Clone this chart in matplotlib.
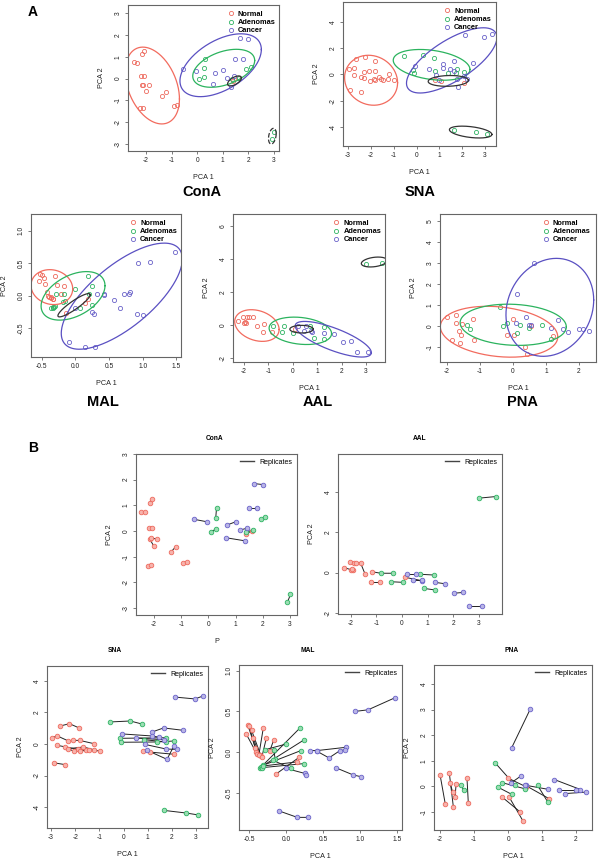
import numpy as np
import matplotlib
matplotlib.use("Agg")
import matplotlib.pyplot as plt
from matplotlib.lines import Line2D
from matplotlib.ticker import FormatStrFormatter

plt.rcParams['font.family'] = ['Liberation Sans', 'DejaVu Sans']
plt.rcParams['axes.unicode_minus'] = False

FIG_W = 600
FIG_H = 868

GROUPS = ['Normal', 'Adenomas', 'Cancer']
EDGE_COLORS = ['#EE6A5E', '#2EB363', '#6A62C9']
FILL_COLORS = ['#F7B3AC', '#9BDDB3', '#B9B5E6']
ELLIPSE_COLORS = ['#F26B5E', '#2BB35E', '#5A50C2', '#333333', '#333333']

# points: (PCA 1, PCA 2, group index, replicate id)
CONA_PTS = [
    (-2.47, 0.75, 0, 1), (-2.34, 0.73, 0, 1),
    (-2.14, 1.11, 0, 2), (-2.06, 1.24, 0, 2),
    (-2.20, 0.10, 0, 3), (-2.07, 0.11, 0, 3),
    (-2.16, -0.30, 0, 4), (-2.01, -0.58, 0, 4),
    (-2.10, -0.28, 0, 5), (-1.88, -0.31, 0, 5),
    (-2.22, -1.35, 0, 6), (-2.12, -1.33, 0, 6),
    (-1.36, -0.80, 0, 7), (-1.20, -0.61, 0, 7),
    (-0.92, -1.24, 0, 8), (-0.77, -1.19, 0, 8),
    (1.40, -0.12, 0, 9), (1.59, 0.01, 0, 9),
    (0.30, 0.88, 1, 10), (0.27, 0.49, 1, 10),
    (0.08, -0.02, 1, 11), (0.27, 0.06, 1, 11),
    (1.93, 0.45, 1, 12), (2.10, 0.55, 1, 12),
    (2.91, -2.77, 1, 13), (3.02, -2.47, 1, 13),
    (1.37, -0.04, 1, 14), (1.65, 0.04, 1, 14),
    (-0.54, 0.46, 2, 15), (-0.05, 0.36, 2, 15),
    (0.70, 0.24, 2, 16), (1.03, 0.37, 2, 16),
    (1.16, 0.04, 2, 17), (1.43, 0.11, 2, 17),
    (0.64, -0.26, 2, 18), (1.34, -0.38, 2, 18),
    (1.49, 0.88, 2, 19), (1.80, 0.88, 2, 19),
    (1.67, 1.85, 2, 20), (2.00, 1.81, 2, 20),
]

SNA_PTS = [
    (-2.63, 1.14, 0, 1), (-2.24, 1.29, 0, 1), (-1.84, 1.02, 0, 1),
    (-2.97, 0.40, 0, 2), (-2.74, 0.51, 0, 2), (-2.28, 0.19, 0, 2),
    (-2.10, 0.23, 0, 3), (-1.82, 0.23, 0, 3), (-1.22, 0.02, 0, 3),
    (-2.76, -0.08, 0, 4), (-1.87, -0.34, 0, 4), (-0.97, -0.44, 0, 4),
    (-2.42, -0.19, 0, 5), (-2.05, -0.47, 0, 5), (-1.55, -0.36, 0, 5),
    (-2.31, -0.30, 0, 6), (-1.66, -0.19, 0, 6), (-1.24, -0.36, 0, 6),
    (-1.80, -0.44, 0, 7), (-1.45, -0.40, 0, 7),
    (-2.90, -1.19, 0, 8), (-2.41, -1.31, 0, 8),
    (0.80, -0.44, 0, 9), (1.08, -0.51, 0, 9), (2.08, -0.65, 0, 9),
    (-0.55, 1.40, 1, 10), (0.28, 1.46, 1, 10), (0.76, 1.27, 1, 10),
    (-0.16, 0.36, 1, 11), (1.76, 0.40, 1, 11),
    (-0.11, 0.11, 1, 12), (1.38, 0.13, 1, 12), (2.08, 0.19, 1, 12),
    (0.83, 0.28, 1, 13), (1.74, 0.13, 1, 13),
    (1.66, -4.21, 1, 14), (2.60, -4.38, 1, 14), (3.09, -4.50, 1, 14),
    (2.12, 2.98, 2, 15), (2.96, 2.86, 2, 15), (3.30, 3.05, 2, 15),
    (1.18, 0.76, 2, 16), (1.66, 1.02, 2, 16), (2.46, 0.87, 2, 16),
    (-0.07, 0.64, 2, 17), (1.18, 0.51, 2, 17), (1.45, 0.44, 2, 17),
    (0.53, 0.38, 2, 18), (1.66, 0.27, 2, 18),
    (0.87, -0.02, 2, 19), (1.77, -0.32, 2, 19), (2.21, -0.34, 2, 19),
    (0.97, -0.40, 2, 20), (1.80, -0.97, 2, 20), (2.08, -0.15, 2, 20),
]

MAL_PTS = [
    (-0.54, 0.22, 0, 1), (-0.41, 0.00, 0, 1),
    (-0.52, 0.33, 0, 2), (-0.39, -0.02, 0, 2),
    (-0.50, 0.32, 0, 3), (-0.42, 0.05, 0, 3),
    (-0.47, 0.27, 0, 4), (-0.34, -0.05, 0, 4),
    (-0.45, 0.18, 0, 5), (-0.36, -0.04, 0, 5),
    (-0.31, 0.30, 0, 6), (-0.37, -0.03, 0, 6),
    (-0.27, 0.17, 0, 7), (-0.33, -0.06, 0, 7),
    (-0.22, 0.02, 0, 8), (-0.17, 0.15, 0, 8),
    (-0.14, -0.27, 0, 9), (0.18, -0.06, 0, 9),
    (-0.36, -0.20, 1, 10), (0.19, 0.30, 1, 10),
    (-0.34, -0.18, 1, 11), (0.24, 0.15, 1, 11),
    (-0.31, -0.16, 1, 12), (0.20, 0.02, 1, 12),
    (-0.33, -0.19, 1, 13), (0.24, -0.14, 1, 13),
    (-0.32, -0.17, 1, 14), (0.14, -0.12, 0, 14),
    (-0.29, 0.03, 1, 15), (0.00, 0.10, 1, 15),
    (-0.17, 0.03, 1, 16), (-0.15, -0.08, 1, 16),
    (-0.18, -0.10, 1, 17), (0.07, -0.20, 1, 17),
    (0.93, 0.50, 2, 18), (1.11, 0.52, 2, 18), (1.48, 0.67, 2, 18),
    (0.32, 0.02, 2, 19), (0.42, 0.02, 2, 19), (0.81, 0.06, 2, 19),
    (0.42, 0.01, 2, 20), (0.58, -0.07, 2, 20), (0.73, 0.02, 2, 20), (0.80, 0.03, 2, 20),
    (0.67, -0.19, 2, 21), (0.91, -0.28, 2, 21), (1.01, -0.30, 2, 21),
    (-0.10, -0.72, 2, 22), (0.15, -0.80, 2, 22), (0.29, -0.80, 2, 22),
    (0.00, -0.20, 2, 23), (0.25, -0.26, 2, 23), (0.27, -0.28, 2, 23),
]

AAL_PTS = [
    (-2.26, 0.25, 0, 1), (-1.93, 0.12, 0, 1),
    (-2.04, 0.51, 0, 2), (-1.87, 0.48, 0, 2),
    (-1.78, 0.50, 0, 3), (-1.62, 0.48, 0, 3), (-1.45, -0.05, 0, 3),
    (-2.00, 0.15, 0, 4), (-1.95, 0.20, 0, 4),
    (-1.16, 0.04, 0, 5), (-0.83, -0.03, 1, 5), (-0.37, -0.03, 1, 5),
    (-1.23, -0.45, 0, 6), (-0.87, -0.45, 0, 6),
    (0.11, -0.23, 0, 7), (0.78, -0.40, 2, 7),
    (-0.44, -0.45, 1, 8), (0.02, -0.48, 1, 8),
    (0.70, -0.08, 1, 9), (1.26, -0.12, 1, 9),
    (0.85, -0.78, 1, 10), (1.29, -0.86, 1, 10),
    (2.99, 3.69, 1, 11), (3.65, 3.77, 1, 11),
    (0.20, -0.08, 2, 12), (0.53, -0.08, 2, 12),
    (0.44, -0.38, 2, 13), (0.76, -0.38, 2, 13),
    (1.28, -0.48, 2, 14), (1.67, -0.55, 2, 14),
    (2.04, -1.02, 2, 15), (2.39, -0.98, 2, 15),
    (2.62, -1.64, 2, 16), (3.10, -1.64, 2, 16),
]

PNA_PTS = [
    (-2.00, 0.44, 0, 1), (-1.85, -0.67, 0, 1),
    (-1.73, 0.53, 0, 2), (-1.61, -0.80, 0, 2),
    (-1.71, 0.14, 0, 3), (-1.63, -0.22, 0, 3),
    (-1.53, 0.08, 0, 4), (-1.56, -0.41, 0, 4),
    (-1.21, 0.34, 0, 5), (-1.17, -0.65, 0, 5),
    (-0.18, -0.41, 0, 6), (0.36, -1.00, 0, 6),
    (0.03, -0.41, 0, 7), (0.44, -1.35, 0, 7),
    (-0.01, 0.33, 0, 8), (0.54, -0.02, 0, 8),
    (-1.38, 0.07, 1, 9), (-1.31, -0.15, 1, 9),
    (-0.38, 0.92, 1, 10), (0.21, 0.04, 1, 10),
    (-0.31, -0.02, 1, 11), (0.11, -0.31, 1, 11),
    (-0.18, 0.15, 1, 12), (0.49, -0.09, 1, 12),
    (0.87, 0.04, 1, 13), (1.17, -0.61, 1, 13),
    (0.54, 0.04, 2, 14), (1.17, -0.11, 2, 14),
    (0.50, 0.05, 2, 15), (1.21, -0.48, 0, 15),
    (0.11, 1.52, 2, 16), (0.65, 3.01, 2, 16),
    (0.39, 0.42, 2, 17), (0.09, 0.14, 2, 17),
    (1.36, 0.27, 2, 18), (2.13, -0.12, 2, 18),
    (1.51, -0.15, 2, 19), (2.00, -0.15, 2, 19),
    (1.67, -0.28, 2, 20), (2.30, -0.22, 2, 20),
]

# ellipses: (centre x, centre y, half width, half height, correlation, colour index)
# colour index 3 = black solid, 4 = black dashed
CONA_ELL = [(-1.75, -0.32, 1.06, 1.76, -0.35, 0), (0.92, 0.61, 1.59, 1.44, 0.50, 2),
            (1.04, 0.47, 1.21, 0.87, 0.41, 1), (1.46, -0.11, 0.27, 0.23, 0.60, 3),
            (2.94, -2.64, 0.15, 0.36, 0.30, 4)]
SNA_ELL = [(-1.99, -0.45, 1.16, 1.90, -0.10, 0), (0.66, 0.72, 1.68, 1.17, -0.30, 1),
           (1.54, 1.06, 1.98, 2.48, 0.70, 2), (1.39, -0.50, 0.88, 0.41, 0.10, 3),
           (2.37, -4.39, 0.93, 0.45, -0.40, 3)]
MAL_ELL = [(-0.35, 0.13, 0.31, 0.27, -0.10, 0), (-0.035, -0.005, 0.475, 0.375, 0.42, 1),
           (0.69, -0.01, 0.90, 0.82, 0.70, 2), (-0.02, -0.15, 0.24, 0.18, 0.90, 3)]
AAL_ELL = [(-1.47, -0.03, 0.91, 0.96, -0.25, 0), (0.31, -0.35, 1.28, 0.83, -0.20, 1),
           (1.66, -0.86, 1.56, 1.08, -0.75, 2), (0.36, -0.25, 0.48, 0.23, 0.0, 3),
           (3.34, 3.82, 0.53, 0.30, 0.30, 3)]
PNA_ELL = [(-0.42, -0.27, 1.78, 1.21, -0.20, 0), (0.01, 0.06, 1.61, 0.98, -0.10, 1),
           (1.12, 0.89, 1.33, 2.33, 0.15, 2)]

INT_TICKS = {
    'ConA': ([-2, -1, 0, 1, 2, 3], [-3, -2, -1, 0, 1, 2, 3]),
    'SNA': ([-3, -2, -1, 0, 1, 2, 3], [-4, -2, 0, 2, 4]),
    'MAL': ([-0.5, 0.0, 0.5, 1.0, 1.5], [-0.5, 0.0, 0.5, 1.0]),
    'AAL': ([-2, -1, 0, 1, 2, 3], [-2, 0, 2, 4, 6]),
    'PNA': ([-2, -1, 0, 1, 2], [-1, 0, 1, 2, 3, 4, 5]),
}


def add_box(fig, l, t, r, b):
    """Add axes from pixel box (left, top, right, bottom)."""
    return fig.add_axes([l / FIG_W, 1 - b / FIG_H, (r - l) / FIG_W, (b - t) / FIG_H])


def style_axes(ax, name, xlim, ylim, yticks=None, xlabel='PCA 1', ylabel='PCA 2'):
    """R base graphics look."""
    xt, yt = INT_TICKS[name]
    if yticks is not None:
        yt = yticks
    ax.set_xlim(xlim)
    ax.set_ylim(ylim)
    ax.set_xticks(xt)
    ax.set_yticks(yt)
    if name == 'MAL':
        ax.xaxis.set_major_formatter(FormatStrFormatter('%.1f'))
        ax.yaxis.set_major_formatter(FormatStrFormatter('%.1f'))
    else:
        ax.xaxis.set_major_formatter(FormatStrFormatter('%d'))
        ax.yaxis.set_major_formatter(FormatStrFormatter('%d'))
    for s in ax.spines.values():
        s.set_color('#666666')
        s.set_linewidth(0.8)
    ax.tick_params(direction='out', length=2.5, width=0.6, color='#666666',
                   labelsize=4.8, pad=2, labelcolor='#222222')
    for lab in ax.get_yticklabels():
        lab.set_rotation(90)
        lab.set_va('center')
    if xlabel:
        ax.set_xlabel(xlabel, fontsize=5.2, labelpad=7, color='#222222')
    if ylabel:
        ax.set_ylabel(ylabel, fontsize=5.2, labelpad=7, color='#222222')


def draw_ellipse(ax, cx, cy, w, h, rho, ci):
    t = np.linspace(0, 2 * np.pi, 240)
    x = cx + w * np.cos(t)
    y = cy + h * np.cos(t - np.arccos(rho))
    ls = '--' if ci == 4 else '-'
    ax.plot(x, y, ls, color=ELLIPSE_COLORS[ci], lw=0.9)


def panel_a(ax, pts, ells):
    for g in range(3):
        xs = [p[0] for p in pts if p[2] == g]
        ys = [p[1] for p in pts if p[2] == g]
        ax.plot(xs, ys, 'o', ms=3.0, mfc='none', mec=EDGE_COLORS[g], mew=0.6,
                label=GROUPS[g])
    for e in ells:
        draw_ellipse(ax, *e)
    leg = ax.legend(loc='upper left', bbox_to_anchor=(0.62, 1.0), frameon=False,
                    fontsize=5.3, handlelength=0.9, handletextpad=0.5,
                    labelspacing=0.12, borderpad=0.3, prop={'weight': 'bold', 'size': 5.3})


def panel_b(ax, pts):
    reps = sorted(set(p[3] for p in pts))
    for r in reps:
        xs = [p[0] for p in pts if p[3] == r]
        ys = [p[1] for p in pts if p[3] == r]
        ax.plot(xs, ys, '-', color='#222222', lw=0.7, zorder=2)
    for g in range(3):
        xs = [p[0] for p in pts if p[2] == g]
        ys = [p[1] for p in pts if p[2] == g]
        ax.plot(xs, ys, 'o', ms=3.3, mfc=FILL_COLORS[g], mec=EDGE_COLORS[g], mew=0.6,
                zorder=3)
    h = [Line2D([0], [0], color='#444444', lw=1.0)]
    ax.legend(h, ['Replicates'], loc='upper right', frameon=False, fontsize=5,
              handlelength=2.0, handletextpad=0.7, borderaxespad=0.3)


if __name__ == '__main__':
    fig = plt.figure(figsize=(FIG_W / 100, FIG_H / 100), dpi=100)

    # Panel A
    ax = add_box(fig, 128, 5, 279, 151)
    panel_a(ax, CONA_PTS, CONA_ELL)
    style_axes(ax, 'ConA', (-2.7, 3.2), (-3.32, 3.37))

    ax = add_box(fig, 343, 2, 496, 146)
    panel_a(ax, SNA_PTS, SNA_ELL)
    style_axes(ax, 'SNA', (-3.22, 3.48), (-5.45, 5.5))

    ax = add_box(fig, 31, 214, 181, 357)
    panel_a(ax, MAL_PTS, MAL_ELL)
    style_axes(ax, 'MAL', (-0.66, 1.57), (-0.95, 1.26))

    ax = add_box(fig, 233, 214, 385, 362)
    panel_a(ax, AAL_PTS, AAL_ELL)
    style_axes(ax, 'AAL', (-2.45, 3.78), (-2.24, 6.73))

    ax = add_box(fig, 440, 214, 596, 362)
    panel_a(ax, PNA_PTS, PNA_ELL)
    style_axes(ax, 'PNA', (-2.21, 2.52), (-1.71, 5.33))

    for name, x, y in [('ConA', 202, 192), ('SNA', 420, 192), ('MAL', 103, 402),
                       ('AAL', 318, 402), ('PNA', 522, 402)]:
        fig.text(x / FIG_W, 1 - y / FIG_H, name, fontsize=10.5, fontweight='bold',
                 ha='center', va='center')

    # Panel B
    ax = add_box(fig, 136, 454, 297, 615)
    panel_b(ax, CONA_PTS)
    style_axes(ax, 'ConA', (-2.66, 3.26), (-3.27, 2.97), xlabel='P')

    ax = add_box(fig, 338, 454, 502, 614)
    panel_b(ax, AAL_PTS)
    style_axes(ax, 'AAL', (-2.5, 3.9), (-2.05, 5.88), yticks=[-2, 0, 2, 4], xlabel=None)

    ax = add_box(fig, 47, 666, 208, 828)
    panel_b(ax, SNA_PTS)
    style_axes(ax, 'SNA', (-3.17, 3.5), (-5.33, 4.95))

    ax = add_box(fig, 239, 665, 402, 830)
    panel_b(ax, MAL_PTS)
    style_axes(ax, 'MAL', (-0.64, 1.57), (-0.955, 1.07))

    ax = add_box(fig, 434, 665, 592, 830)
    panel_b(ax, PNA_PTS)
    style_axes(ax, 'PNA', (-2.18, 2.47), (-1.7, 4.74), yticks=[-1, 0, 1, 2, 3, 4])

    for name, x, y in [('ConA', 215, 439), ('AAL', 420, 439), ('SNA', 115, 650),
                       ('MAL', 308, 650), ('PNA', 512, 650)]:
        fig.text(x / FIG_W, 1 - y / FIG_H, name, fontsize=4.8, fontweight='bold',
                 ha='center', va='center')

    fig.text(33 / FIG_W, 1 - 12 / FIG_H, 'A', fontsize=10, fontweight='bold',
             ha='center', va='center')
    fig.text(33 / FIG_W, 1 - 448 / FIG_H, 'B', fontsize=10, fontweight='bold',
             ha='center', va='center')

    fig.savefig('out.png', dpi=100)
